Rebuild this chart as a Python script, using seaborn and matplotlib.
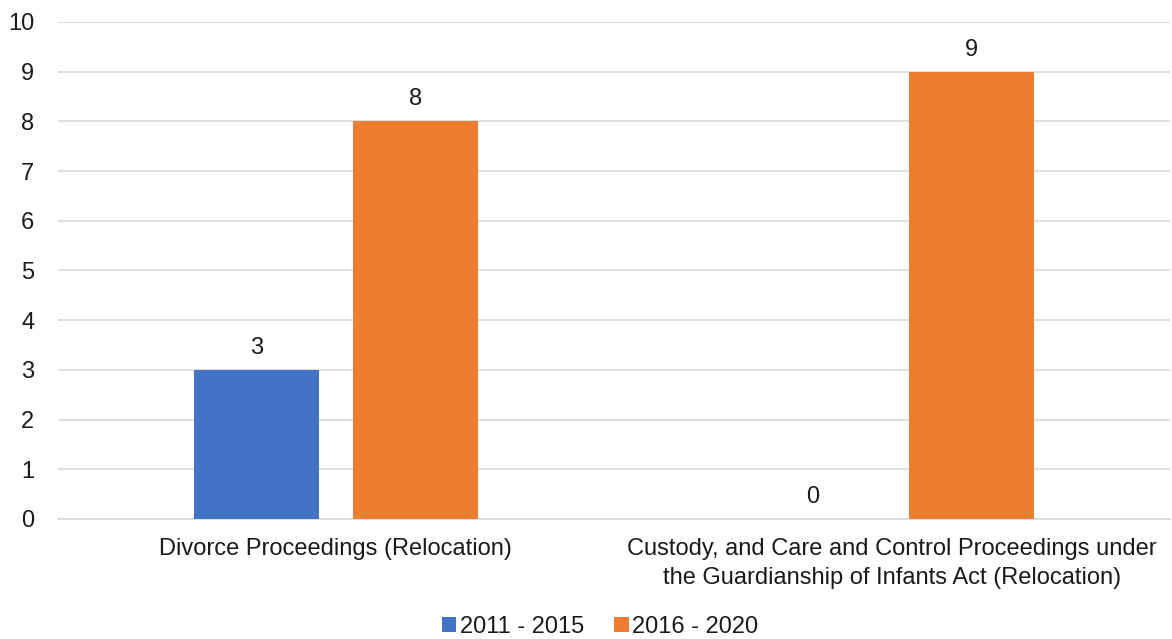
import matplotlib
matplotlib.use("Agg")
import matplotlib.pyplot as plt
import seaborn as sns
import pandas as pd

categories = [
    "Divorce Proceedings (Relocation)",
    "Custody, and Care and Control Proceedings under\nthe Guardianship of Infants Act (Relocation)",
]
periods = ["2011 - 2015", "2016 - 2020"]
values_2011_2015 = [3, 0]
values_2016_2020 = [8, 9]
y_ticks = list(range(0, 11))
colors = ["#4472C4", "#ED7D31"]

df = pd.DataFrame({
    "category": categories * 2,
    "period": [periods[0]] * 2 + [periods[1]] * 2,
    "count": values_2011_2015 + values_2016_2020,
})

sns.set_theme(style="white")
plt.rcParams["font.family"] = ["Liberation Sans", "DejaVu Sans"]

fig = plt.figure(figsize=(11.72, 6.39), dpi=100)
ax = fig.add_axes([0.0495, 0.1878, 0.9485, 0.7778])

sns.barplot(data=df, x="category", y="count", hue="period", order=categories,
            hue_order=periods, palette=colors, width=0.572, gap=0.213,
            saturation=1, linewidth=0, ax=ax, legend=True, zorder=3)

for container in ax.containers:
    ax.bar_label(container, fmt="%d", padding=8, fontsize=17, color="#1a1a1a")

ax.set_ylim(0, 10)
ax.set_yticks(y_ticks)
ax.set_xlim(-0.5, 1.5)
ax.yaxis.grid(True, color="#D9D9D9", linewidth=1.2, zorder=0)
ax.set_axisbelow(True)
for side in ["top", "right", "left"]:
    ax.spines[side].set_visible(False)
ax.spines["bottom"].set_color("#D9D9D9")
ax.spines["bottom"].set_linewidth(1.2)
ax.set_xlabel("")
ax.set_ylabel("")
ax.tick_params(axis="y", labelsize=17, colors="#1a1a1a", length=0, pad=17)
ax.tick_params(axis="x", labelsize=17, colors="#1a1a1a", length=0, pad=14)
for lbl in ax.get_xticklabels():
    lbl.set_linespacing(1.4)

handles, labels = ax.get_legend_handles_labels()
ax.get_legend().remove()
fig.legend(handles, labels, loc="center", bbox_to_anchor=(0.512, 0.019), ncol=2,
           frameon=False, fontsize=17, handlelength=0.6, handleheight=0.6,
           handletextpad=0.15, columnspacing=1.3, labelcolor="#1a1a1a",
           borderpad=0, borderaxespad=0)

fig.savefig("out.png", dpi=100)
